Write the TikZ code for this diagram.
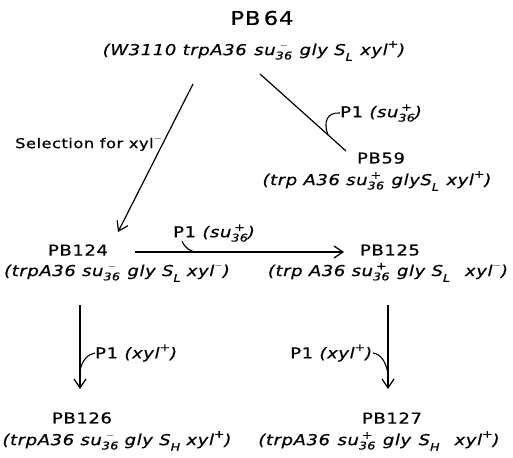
\documentclass[tikz,border=0pt]{standalone}
\usepackage{fontspec}
\setmainfont{DejaVu Sans}[FakeStretch=1.2,LetterSpace=4,FakeBold=0.6]
\usetikzlibrary{arrows.meta}
\newcommand{\gss}[2]{\begingroup\fontsize{10.5}{10.5}\selectfont\setbox0\hbox{#2}\rlap{\hbox to\wd0{\hss\raisebox{1.1ex}{#1}\hss}}\raisebox{-0.75ex}{#2}\endgroup}
\newcommand{\gsub}[1]{\raisebox{-0.7ex}{\fontsize{10.5}{10.5}\selectfont #1}}
\newcommand{\gsup}[1]{\raisebox{0.9ex}{\fontsize{10.5}{10.5}\selectfont #1}}
\begin{document}
\begin{tikzpicture}[x=1pt,y=-1pt,
  lbl/.style={inner sep=0pt,font=\fontsize{15}{18}\selectfont},
  geno/.style={inner sep=0pt,font=\fontsize{15}{18}\selectfont\itshape},
  big/.style={inner sep=0pt,font=\fontsize{19}{22}\selectfont},
  conn/.style={line width=1.2pt},
  arr/.style={conn,-{Straight Barb[length=9pt,width=12pt,line width=1.2pt]}},
  hook/.style={line width=1.1pt}]
\useasboundingbox (0,0) rectangle (513,457);
% strains
\node[big] (pb64) at (262,18) {PB\,64};
\node[geno] (g64) at (254,51) {(W3110 trpA36\enspace su\gss{$-$}{36}\enspace gly S\gsub{L}\enspace xyl\gsup{+})};
\node[lbl] (pb59) at (381,158) {PB59};
\node[geno] (g59) at (377,181) {(trp A36 su\gss{+}{36}\enspace glyS\gsub{L}\enspace xyl\gsup{+})};
\node[lbl] (pb124) at (78,250) {PB124};
\node[geno] (g124) at (117,272) {(trpA36 su\gss{$-$}{36}\enspace gly S\gsub{L} xyl\gsup{$-$})};
\node[lbl] (pb125) at (390,250) {PB125};
\node[geno] (g125) at (388,272) {(trp A36 su\gss{+}{36}\enspace gly S\gsub{L}\enspace\enspace xyl\gsup{$-$})};
\node[lbl] (pb126) at (82,418) {PB126};
\node[geno] (g126) at (117,441) {(trpA36 su\gss{$-$}{36} gly S\gsub{H} xyl\gsup{+})};
\node[lbl] (pb127) at (392,418) {PB127};
\node[geno] (g127) at (379,441) {(trpA36\enspace su\gss{+}{36}\enspace gly\enspace S\gsub{H}\enspace\enspace xyl\gsup{+})};
% labels
\node[lbl,anchor=west,font=\fontsize{13.5}{16}\selectfont] (sel) at (15,143) {Selection for xyl\gsup{$-$}};
\node[lbl,anchor=west] (p1a) at (340,113) {P1 \textit{(su\gss{+}{36})}};
\node[lbl,anchor=west] (p1b) at (173,233) {P1 \textit{(su\gss{+}{36})}};
\node[lbl,anchor=west] (p1c) at (95,353) {P1 \textit{(xyl\gsup{+})}};
\node[lbl,anchor=east] (p1d) at (373,353) {P1 \textit{(xyl\gsup{+})}};
% connector end points
\coordinate (a1) at (193,84);
\coordinate (a2) at (118,232);
\coordinate (b1) at (260,74);
\coordinate (b2) at (346,151);
\coordinate (c1) at (135,252);
\coordinate (c2) at (344,252);
\coordinate (d1) at (80,305);
\coordinate (d2) at (80,389);
\coordinate (e1) at (388,305);
\coordinate (e2) at (388,389);
% connectors
\draw[arr] (a1) -- (a2);
\draw[conn] (b1) -- (b2);
\draw[arr] (c1) -- (c2);
\draw[arr] (d1) -- (d2);
\draw[arr] (e1) -- (e2);
% hooks
\draw[hook] (328,135) .. controls (323,122) and (327,112) .. (p1a.west);
\draw[hook] (182,241) .. controls (185,248) and (190,252) .. (198,252);
\draw[hook] (80,371) .. controls (82,360) and (88,354) .. (p1c.west);
\draw[hook] (p1d.east) .. controls (381,354) and (386,362) .. (388,374);
\end{tikzpicture}
\end{document}
